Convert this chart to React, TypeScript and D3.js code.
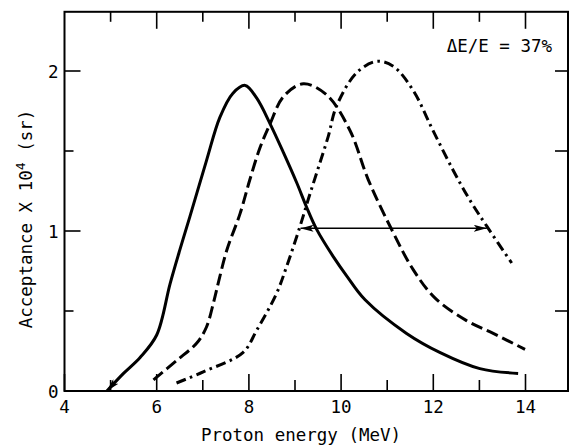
import React from "react";
import * as d3 from "d3";

// ---- Data ----
const solidE = [4.92, 5.28, 5.64, 6.0, 6.29, 6.5, 6.72, 7.08, 7.37, 7.65, 7.92, 8.17, 8.46, 8.75, 9.04, 9.25, 9.47, 9.83, 10.12, 10.52, 11.42, 12.15, 13.01, 13.84];
const solidA = [0.0, 0.11, 0.21, 0.35, 0.67, 0.88, 1.09, 1.44, 1.71, 1.86, 1.91, 1.83, 1.67, 1.49, 1.3, 1.15, 1.01, 0.84, 0.72, 0.57, 0.36, 0.24, 0.14, 0.11];

const dashedE = [5.93, 6.43, 6.87, 7.08, 7.23, 7.34, 7.52, 7.81, 8.02, 8.24, 8.46, 8.75, 9.18, 9.69, 10.19, 10.59, 11.13, 11.56, 12.04, 12.72, 13.3, 13.99];
const dashedA = [0.07, 0.19, 0.3, 0.4, 0.55, 0.68, 0.88, 1.11, 1.32, 1.52, 1.67, 1.84, 1.92, 1.85, 1.63, 1.32, 0.99, 0.76, 0.58, 0.44, 0.36, 0.26];

const dashDotE = [6.43, 7.01, 7.87, 8.17, 8.6, 8.82, 9.11, 9.29, 9.5, 9.72, 9.9, 10.34, 10.77, 11.13, 11.56, 11.99, 12.43, 12.8, 13.16, 13.7];
const dashDotA = [0.05, 0.12, 0.24, 0.38, 0.61, 0.78, 1.03, 1.2, 1.39, 1.59, 1.78, 1.99, 2.06, 2.03, 1.88, 1.63, 1.38, 1.19, 1.03, 0.8];

const xTickLabels = [4, 6, 8, 10, 12, 14];
const xMinorTicks = [5, 7, 9, 11, 13];
const yTickLabels = [0, 1, 2];
const yMinorTicks = [0.5, 1.5];

const arrowE = [9.12, 13.16];
const arrowA = 1.017;

const annotation = "ΔE/E = 37%";
const xTitle = "Proton energy (MeV)";

// ---- Layout ----
const W = 572;
const H = 446;
const FONT = "'DejaVu Sans Mono', monospace";

export default function App() {
  const x = d3.scaleLinear().domain([4, 14]).range([64.5, 525.5]);
  const y = d3.scaleLinear().domain([0, 2]).range([391, 71]);
  const left = x(4);
  const right = 568;
  const bottom = y(0);
  const top = y(2.37);

  const line = d3
    .line<[number, number]>()
    .x((d) => x(d[0]))
    .y((d) => y(d[1]))
    .curve(d3.curveCatmullRom.alpha(0.5));

  const solid = solidE.map((e, i) => [e, solidA[i]] as [number, number]);
  const dashed = dashedE.map((e, i) => [e, dashedA[i]] as [number, number]);
  const dashDot = dashDotE.map((e, i) => [e, dashDotA[i]] as [number, number]);

  const allX = [...xTickLabels.map((v) => ({ v, major: true })), ...xMinorTicks.map((v) => ({ v, major: false }))];
  const allY = [...yTickLabels.filter((v) => v > 0).map((v) => ({ v, major: true })), ...yMinorTicks.map((v) => ({ v, major: false }))];

  return (
    <svg width={W} height={H} style={{ position: "absolute", left: 0, top: 0, background: "#fff" }}>
      <defs>
        <marker id="ah" viewBox="0 0 13 7" refX={13} refY={3.5} markerWidth={13} markerHeight={7} markerUnits="userSpaceOnUse" orient="auto-start-reverse">
          <path d="M0,0 L13,3.5 L0,7 L3,3.5 Z" fill="#000" />
        </marker>
      </defs>

      {/* frame */}
      <rect x={left} y={top} width={right - left} height={bottom - top} fill="none" stroke="#000" strokeWidth={2} />

      {/* ticks */}
      {allX.map((t) => (
        <g key={"xt" + t.v}>
          <line x1={x(t.v)} x2={x(t.v)} y1={bottom} y2={bottom - (t.major ? 17 : 11)} stroke="#000" strokeWidth={1.6} />
          {t.v > 4 && <line x1={x(t.v)} x2={x(t.v)} y1={top} y2={top + (t.major ? 17 : 10)} stroke="#000" strokeWidth={1.6} />}
        </g>
      ))}
      {allY.map((t) => (
        <g key={"yt" + t.v}>
          <line x1={left} x2={left + (t.major ? 16 : 9)} y1={y(t.v)} y2={y(t.v)} stroke="#000" strokeWidth={1.6} />
          <line x1={right} x2={right - 13} y1={y(t.v)} y2={y(t.v)} stroke="#000" strokeWidth={1.6} />
        </g>
      ))}

      {/* tick labels */}
      {xTickLabels.map((v) => (
        <text key={"xl" + v} x={x(v)} y={413} textAnchor="middle" fontFamily={FONT} fontSize={17.5} fill="#000">
          {v}
        </text>
      ))}
      {yTickLabels.map((v) => (
        <text key={"yl" + v} x={58.5} y={y(v) + 6.5} textAnchor="end" fontFamily={FONT} fontSize={17.5} fill="#000">
          {v}
        </text>
      ))}

      {/* axis titles */}
      <text x={301} y={441} textAnchor="middle" fontFamily={FONT} fontSize={17.5} fill="#000">
        {xTitle}
      </text>
      <text transform={`translate(32,219) rotate(-90)`} textAnchor="middle" fontFamily={FONT} fontSize={17.5} fill="#000">
        Acceptance X 10<tspan dy={-7} fontSize={13}>4</tspan>
        <tspan dy={7}> (sr)</tspan>
      </text>

      {/* annotation */}
      <text x={552} y={51.5} textAnchor="end" fontFamily={FONT} fontSize={17.5} fill="#000">
        {annotation}
      </text>

      {/* curves */}
      <path d={line(solid) || ""} fill="none" stroke="#000" strokeWidth={3} markerStart="url(#ah)" />
      <path d={line(dashed) || ""} fill="none" stroke="#000" strokeWidth={3} strokeDasharray="12 5" />
      <path d={line(dashDot) || ""} fill="none" stroke="#000" strokeWidth={3} strokeDasharray="10 4.5 2.5 4.5" />

      {/* width arrow */}
      <line x1={x(arrowE[0])} x2={x(arrowE[1])} y1={y(arrowA)} y2={y(arrowA)} stroke="#000" strokeWidth={1.5} markerStart="url(#ah)" markerEnd="url(#ah)" />
    </svg>
  );
}
